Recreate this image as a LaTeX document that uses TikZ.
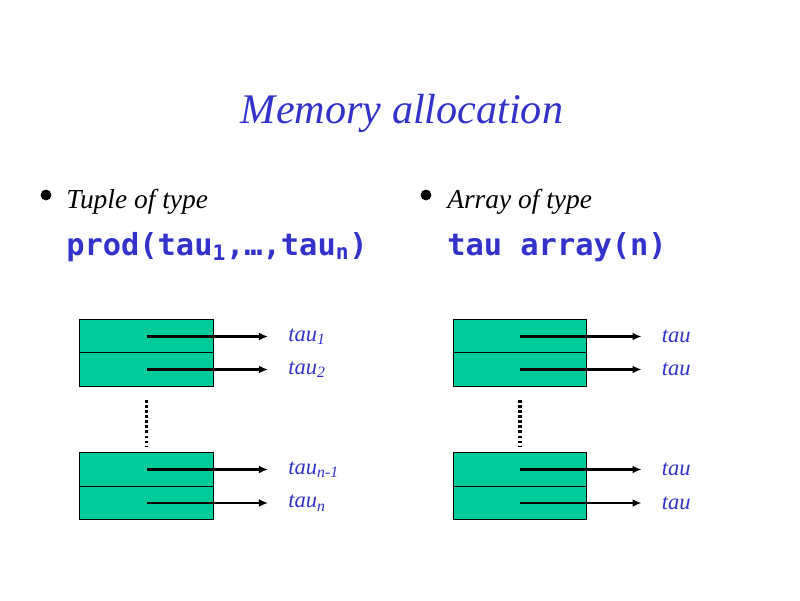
\documentclass[tikz,border=0pt]{standalone}
\usepackage{fontspec}
\setmainfont{Liberation Serif}
\setmonofont{DejaVu Sans Mono}
\usetikzlibrary{arrows.meta}
\definecolor{SLDblue}{HTML}{3333CC}
\definecolor{SLDgreen}{HTML}{00CC99}
\tikzset{
  cell/.style={draw=black,line width=0.8pt,fill=SLDgreen,minimum width=3.33cm,minimum height=0.83cm,inner sep=0pt,outer sep=0pt},
  ptr/.style={-{Latex[length=6.5pt,width=5.5pt]},line width=1.5pt},
  tag/.style={anchor=west,text=SLDblue,inner xsep=0.5cm,inner ysep=0pt,font=\fontsize{16}{18}\selectfont\itshape},
  txt/.style={anchor=base west,inner sep=0pt},
  dot/.style={circle,fill=black,inner sep=0pt,minimum size=0.27cm},
  gap/.style={line width=2.3pt,dash pattern=on 2pt off 1.6pt,shorten <=0.35cm,shorten >=0.175cm}
}

\begin{document}
\begin{tikzpicture}[x=0.025cm,y=-0.025cm]
  \useasboundingbox[fill=white] (0,0) rectangle (800,600);
  % title
  \node[anchor=base,inner sep=0pt,text=SLDblue,font=\fontsize{30}{36}\selectfont\itshape] (title) at (402,123) {Memory allocation};
  % bullets
  \node[dot] (b1) at (46,195) {};
  \node[txt,font=\fontsize{19.5}{24}\selectfont\itshape] (h1) at (66,208) {Tuple of type};
  \node[txt,text=SLDblue,font=\fontsize{21.6}{26}\selectfont\ttfamily\bfseries] (p1) at (66,255) {prod(tau\textsubscript{1},…,tau\textsubscript{n})};
  \node[dot] (b2) at (426,195) {};
  \node[txt,font=\fontsize{19.5}{24}\selectfont\itshape] (h2) at (447,208) {Array of type};
  \node[txt,text=SLDblue,font=\fontsize{21.6}{26}\selectfont\ttfamily\bfseries] (p2) at (447,255) {tau array(n)};
  % tuple cells
  \foreach \nm/\y in {c1/336.5,c2/369.5,c3/469.5,c4/503}
    \node[cell] (\nm) at (146.5,\y) {};
  % array cells
  \foreach \nm/\y in {d1/336.5,d2/369.5,d3/469.5,d4/503}
    \node[cell] (\nm) at (520,\y) {};
  % pointers
  \foreach \nm/\txt in {c1/{tau\textsubscript{1}},c2/{tau\textsubscript{2}},c3/{tau\textsubscript{n-1}},c4/{tau\textsubscript{n}},d1/tau,d2/tau,d3/tau,d4/tau}{
    \node[tag] (t\nm) at ([xshift=3.04cm]\nm.center) {\txt};
    \draw[ptr] (\nm.center) -- (t\nm.west);
  }
  \draw[gap] (c2.south) -- (c3.north);
  \draw[gap] (d2.south) -- (d3.north);
\end{tikzpicture}
\end{document}
